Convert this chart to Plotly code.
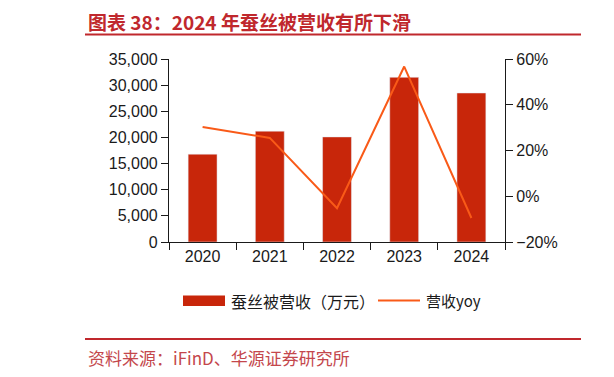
import plotly.graph_objects as go

years = ["2020", "2021", "2022", "2023", "2024"]
revenue = [16800, 21200, 20100, 31500, 28500]
yoy = [30.3, 25.5, -5.2, 56.7, -9.5]
bar_name = "蚕丝被营收（万元）"
line_name = "营收yoy"
title_text = "图表 38：2024 年蚕丝被营收有所下滑"
source_text = "资料来源：iFinD、华源证券研究所"

OFF = 8  # page body margin
W, H = 614 - OFF, 377 - OFF
L, R, T, B = 169 - OFF, 109, 59 - OFF, 135
PW, PH = W - L - R, H - T - B

def px(x):
    return (x - OFF - L) / PW

def py(y):
    return (H - B - (y - OFF)) / PH

BAR_C = "#C8260A"
LINE_C = "#F95A18"
RED = "#C0282D"
AX = "#1a1a1a"
FONT = "Liberation Sans, Arial, sans-serif"
CJK = "Noto Sans CJK SC"

fig = go.Figure()
fig.add_trace(go.Bar(x=years, y=revenue, name=bar_name, marker_color=BAR_C,
                     width=0.43, yaxis="y", showlegend=False))
fig.add_trace(go.Scatter(x=years, y=yoy, name=line_name, mode="lines",
                         line=dict(color=LINE_C, width=2), yaxis="y2", showlegend=False))

axis_common = dict(showgrid=False, zeroline=False, showline=True, linecolor=AX,
                   linewidth=1.2, ticks="outside", ticklen=7, tickcolor=AX,
                   tickwidth=1.2, tickfont=dict(family=FONT, size=16, color=AX))

fig.update_layout(
    width=W, height=H,
    margin=dict(l=L, r=R, t=T, b=B),
    paper_bgcolor="white", plot_bgcolor="white",
    showlegend=False,
    xaxis=dict(type="category", tickson="boundaries", **axis_common),
    yaxis=dict(range=[0, 35000], dtick=5000, tickformat=",", **axis_common),
    yaxis2=dict(range=[-20, 60], dtick=20, ticksuffix="%", overlaying="y",
                side="right", **axis_common),
)

shapes = []
annotations = []

# title
annotations.append(dict(xref="paper", yref="paper", x=px(86), y=py(21.5), text=title_text,
                        showarrow=False, xanchor="left", yanchor="middle",
                        font=dict(family=CJK, size=19, color=RED, weight="bold")))
shapes.append(dict(type="line", xref="paper", yref="paper", x0=px(85), x1=px(581),
                   y0=py(34.5), y1=py(34.5), line=dict(color=RED, width=2)))
shapes.append(dict(type="line", xref="paper", yref="paper", x0=px(610), x1=px(614),
                   y0=py(34.5), y1=py(34.5), line=dict(color=RED, width=2)))
# footer
shapes.append(dict(type="line", xref="paper", yref="paper", x0=px(85), x1=px(581),
                   y0=py(339), y1=py(339), line=dict(color=RED, width=2.2)))
shapes.append(dict(type="line", xref="paper", yref="paper", x0=px(610), x1=px(614),
                   y0=py(339), y1=py(339), line=dict(color=RED, width=2.2)))
annotations.append(dict(xref="paper", yref="paper", x=px(86), y=py(357.5), text=source_text,
                        showarrow=False, xanchor="left", yanchor="middle",
                        font=dict(family=CJK, size=17, color="#C4474C")))

# legend
shapes.append(dict(type="rect", xref="paper", yref="paper", x0=px(183), x1=px(225),
                   y0=py(295.5), y1=py(306), fillcolor=BAR_C, line=dict(width=0)))
annotations.append(dict(xref="paper", yref="paper", x=px(229), y=py(300.5), text=bar_name,
                        showarrow=False, xanchor="left", yanchor="middle",
                        font=dict(family=CJK, size=16, color=AX)))
shapes.append(dict(type="line", xref="paper", yref="paper", x0=px(378), x1=px(420),
                   y0=py(300.5), y1=py(300.5), line=dict(color=LINE_C, width=2)))
annotations.append(dict(xref="paper", yref="paper", x=px(424), y=py(300.5), text=line_name,
                        showarrow=False, xanchor="left", yanchor="middle",
                        font=dict(family=CJK, size=15, color=AX)))

fig.update_layout(shapes=shapes, annotations=annotations)
fig.write_html("out.html")
